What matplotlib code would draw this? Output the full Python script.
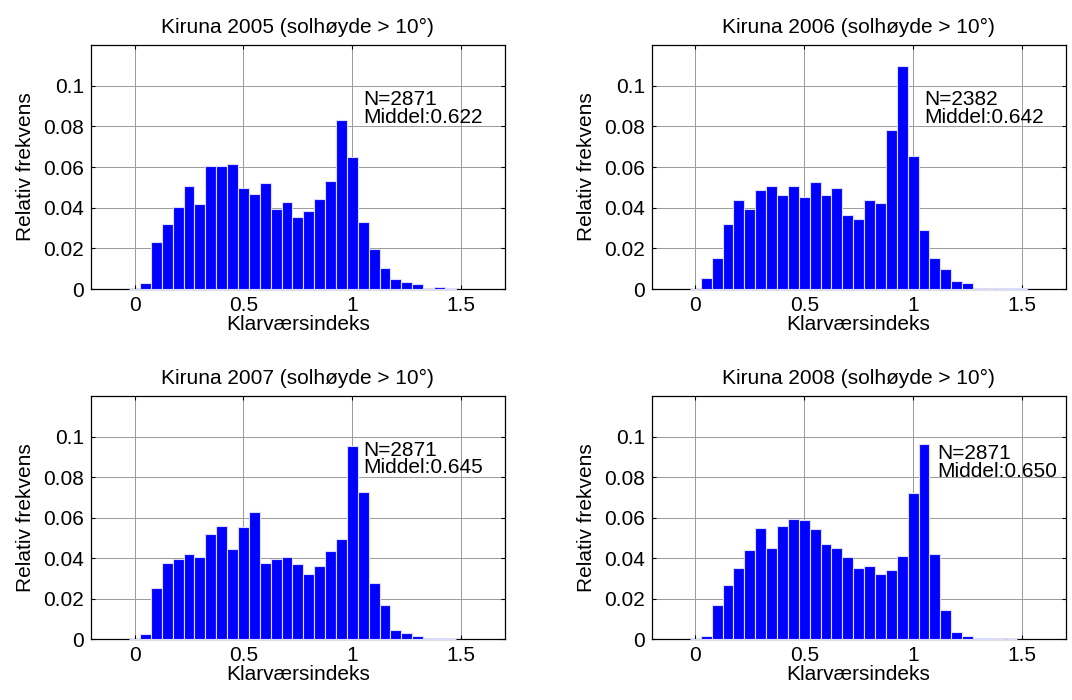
import numpy as np
import matplotlib
matplotlib.use("Agg")
from matplotlib import pyplot as plt

plt.rcParams['font.family'] = ['Liberation Sans', 'DejaVu Sans']

# histogram data (bin centres 0, 0.05, 0.10, ...)
bin_width = 0.05
years = ["2005", "2006", "2007", "2008"]
freq_2005 = [0, 0.0028, 0.023, 0.0322, 0.0404, 0.0506, 0.042, 0.0603, 0.0603, 0.0615,
             0.0495, 0.0468, 0.0521, 0.0396, 0.0429, 0.0353, 0.0386, 0.0445, 0.0531, 0.0832,
             0.0649, 0.0329, 0.0196, 0.0104, 0.0049, 0.0036, 0.0023, 0, 0.0012, 0.0007]
freq_2006 = [0, 0.0053, 0.0154, 0.032, 0.0437, 0.0396, 0.0486, 0.0506, 0.0462, 0.0506,
             0.0455, 0.0529, 0.0462, 0.0495, 0.0363, 0.0347, 0.0437, 0.0421, 0.0782, 0.1098,
             0.0654, 0.0289, 0.0154, 0.0097, 0.0038, 0.0028, 0.0005, 0, 0.0005, 0.0005, 0.0005]
freq_2007 = [0, 0.0026, 0.0251, 0.0376, 0.0393, 0.0419, 0.0403, 0.0519, 0.056, 0.0444,
             0.0552, 0.0626, 0.0376, 0.0393, 0.0403, 0.037, 0.0319, 0.036, 0.0437, 0.0493,
             0.0953, 0.0728, 0.0278, 0.0168, 0.0044, 0.0028, 0.0016, 0.0005, 0.0005, 0]
freq_2008 = [0, 0.0016, 0.0168, 0.0268, 0.0352, 0.0442, 0.0546, 0.0452, 0.056, 0.0595,
             0.0587, 0.0544, 0.0468, 0.0452, 0.0403, 0.0352, 0.036, 0.0319, 0.0343, 0.0411,
             0.072, 0.0961, 0.0419, 0.0143, 0.0035, 0.0016, 0.0005, 0.0005, 0, 0]
n_obs = [2871, 2382, 2871, 2871]
middel = ["0.622", "0.642", "0.645", "0.650"]

xticks = [0, 0.5, 1, 1.5]
xticklabels = ["0", "0.5", "1", "1.5"]
yticks = [0, 0.02, 0.04, 0.06, 0.08, 0.1]
yticklabels = ["0", "0.02", "0.04", "0.06", "0.08", "0.1"]

all_freq = [freq_2005, freq_2006, freq_2007, freq_2008]

fig = plt.figure(figsize=(10.72, 7), dpi=100)
positions = [[0.0849, 0.587, 0.386, 0.3486],
             [0.608, 0.587, 0.386, 0.3486],
             [0.0849, 0.0871, 0.386, 0.3471],
             [0.608, 0.0871, 0.386, 0.3471]]
text_x = [1.05, 1.05, 1.05, 1.11]
text_dy = [0, 0, 0, -0.0016]
fs = 15

for i in range(4):
    ax = fig.add_axes(positions[i])
    freq = all_freq[i]
    centers = np.arange(len(freq)) * bin_width
    ax.bar(centers, freq, width=bin_width, color='#0000ff', edgecolor='#dcdcff',
           linewidth=0.8, zorder=3, clip_on=False)
    ax.set_xlim(-0.2, 1.7)
    ax.set_ylim(0, 0.12)
    ax.set_xticks(xticks)
    ax.set_xticklabels(xticklabels)
    ax.set_yticks(yticks)
    ax.set_yticklabels(yticklabels)
    ax.set_axisbelow(True)
    ax.grid(True, color='0.6', linewidth=0.7)
    ax.tick_params(direction='in', length=3, width=0.8, top=True, right=True,
                   labelsize=fs, pad=5)
    for s in ax.spines.values():
        s.set_linewidth(0.9)
    ax.set_title("Kiruna %s (solhøyde > 10°)" % years[i], fontsize=fs, pad=9)
    ax.set_xlabel("Klarværsindeks", fontsize=fs, labelpad=0)
    ax.set_ylabel("Relativ frekvens", fontsize=fs, labelpad=6)
    ax.text(text_x[i], 0.0905 + text_dy[i], "N=%d" % n_obs[i], fontsize=fs, zorder=4)
    ax.text(text_x[i], 0.0818 + text_dy[i], "Middel:" + middel[i], fontsize=fs, zorder=4)

plt.savefig('out.png', dpi=100)
